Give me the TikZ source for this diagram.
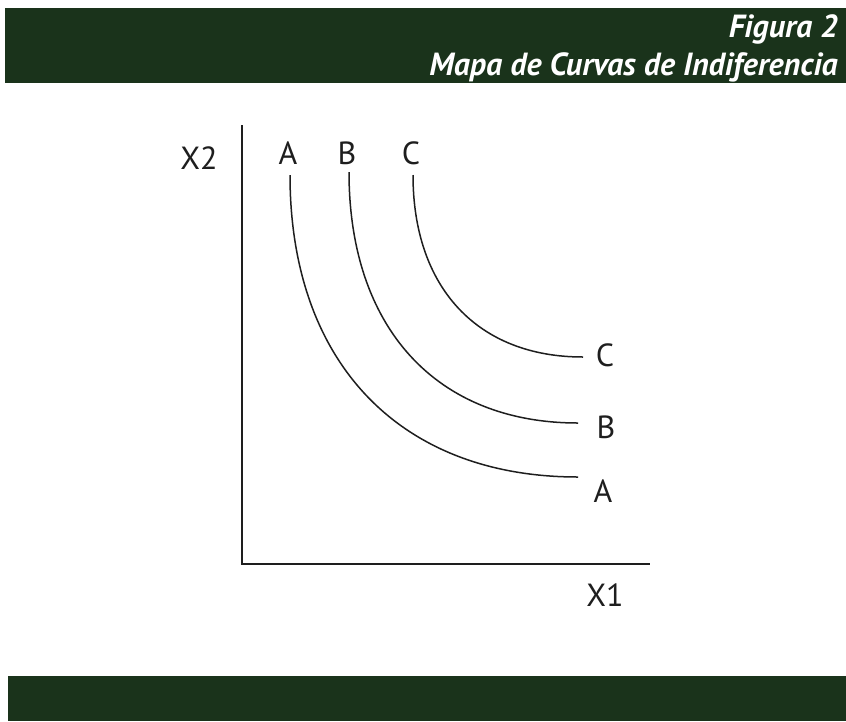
\documentclass[tikz,border=0pt]{standalone}
\usepackage{fontspec}
\setmainfont{PT Sans}
\usetikzlibrary{positioning}
\definecolor{figGreen}{HTML}{1A331B}
\definecolor{figInk}{HTML}{1E1E1E}
\tikzset{
  banner/.style={fill=figGreen, draw=none},
  titletext/.style={text=white, font=\fontsize{32}{36}\selectfont\bfseries\itshape, anchor=base east, inner sep=0pt},
  axislabel/.style={font=\fontsize{32}{36}\selectfont, inner sep=0pt, text=figInk},
  curvelabel/.style={axislabel},
  axisline/.style={line width=2pt, figInk},
  indiff/.style={line width=1.5pt, figInk}
}
\begin{document}
\begin{tikzpicture}[x=1pt, y=-1pt]
  \useasboundingbox (0,0) rectangle (846,721);
  % banners
  \fill[banner] (5,8) rectangle (846,83);
  \fill[banner] (8,676) rectangle (846,721);
  \node[titletext] (fig) at (838,37) {Figura 2};
  \node[titletext] (title) at (838,75) {Mapa de Curvas de Indiferencia};
  % axes
  \coordinate (ytop) at (242,125);
  \coordinate (origin) at (242,564);
  \coordinate (xend) at (650,564);
  \draw[axisline] (ytop) -- (origin) -- (xend);
  \node[axislabel] (x2) at (199,158) {X2};
  \node[axislabel] (x1) at (605,595) {X1};
  % indifference curves
  \foreach \c/\sx/\sy/\ex/\ey/\lx/\ly in {A/290/175/578/477/603/491, B/349/172/578/423/606/427, C/413/175/583/357/605/355}{
    \coordinate (top\c) at (\sx,\sy);
    \coordinate (end\c) at (\ex,\ey);
    \node[curvelabel] (lab\c) at (\sx-2,153) {\c};
    \node[curvelabel] (side\c) at (\lx,\ly) {\c};
    \draw[indiff] (top\c) .. controls (\sx,{\sy+0.62*(\ey-\sy)}) and ({\ex-0.62*(\ex-\sx)},\ey) .. (end\c);
  }
\end{tikzpicture}
\end{document}
